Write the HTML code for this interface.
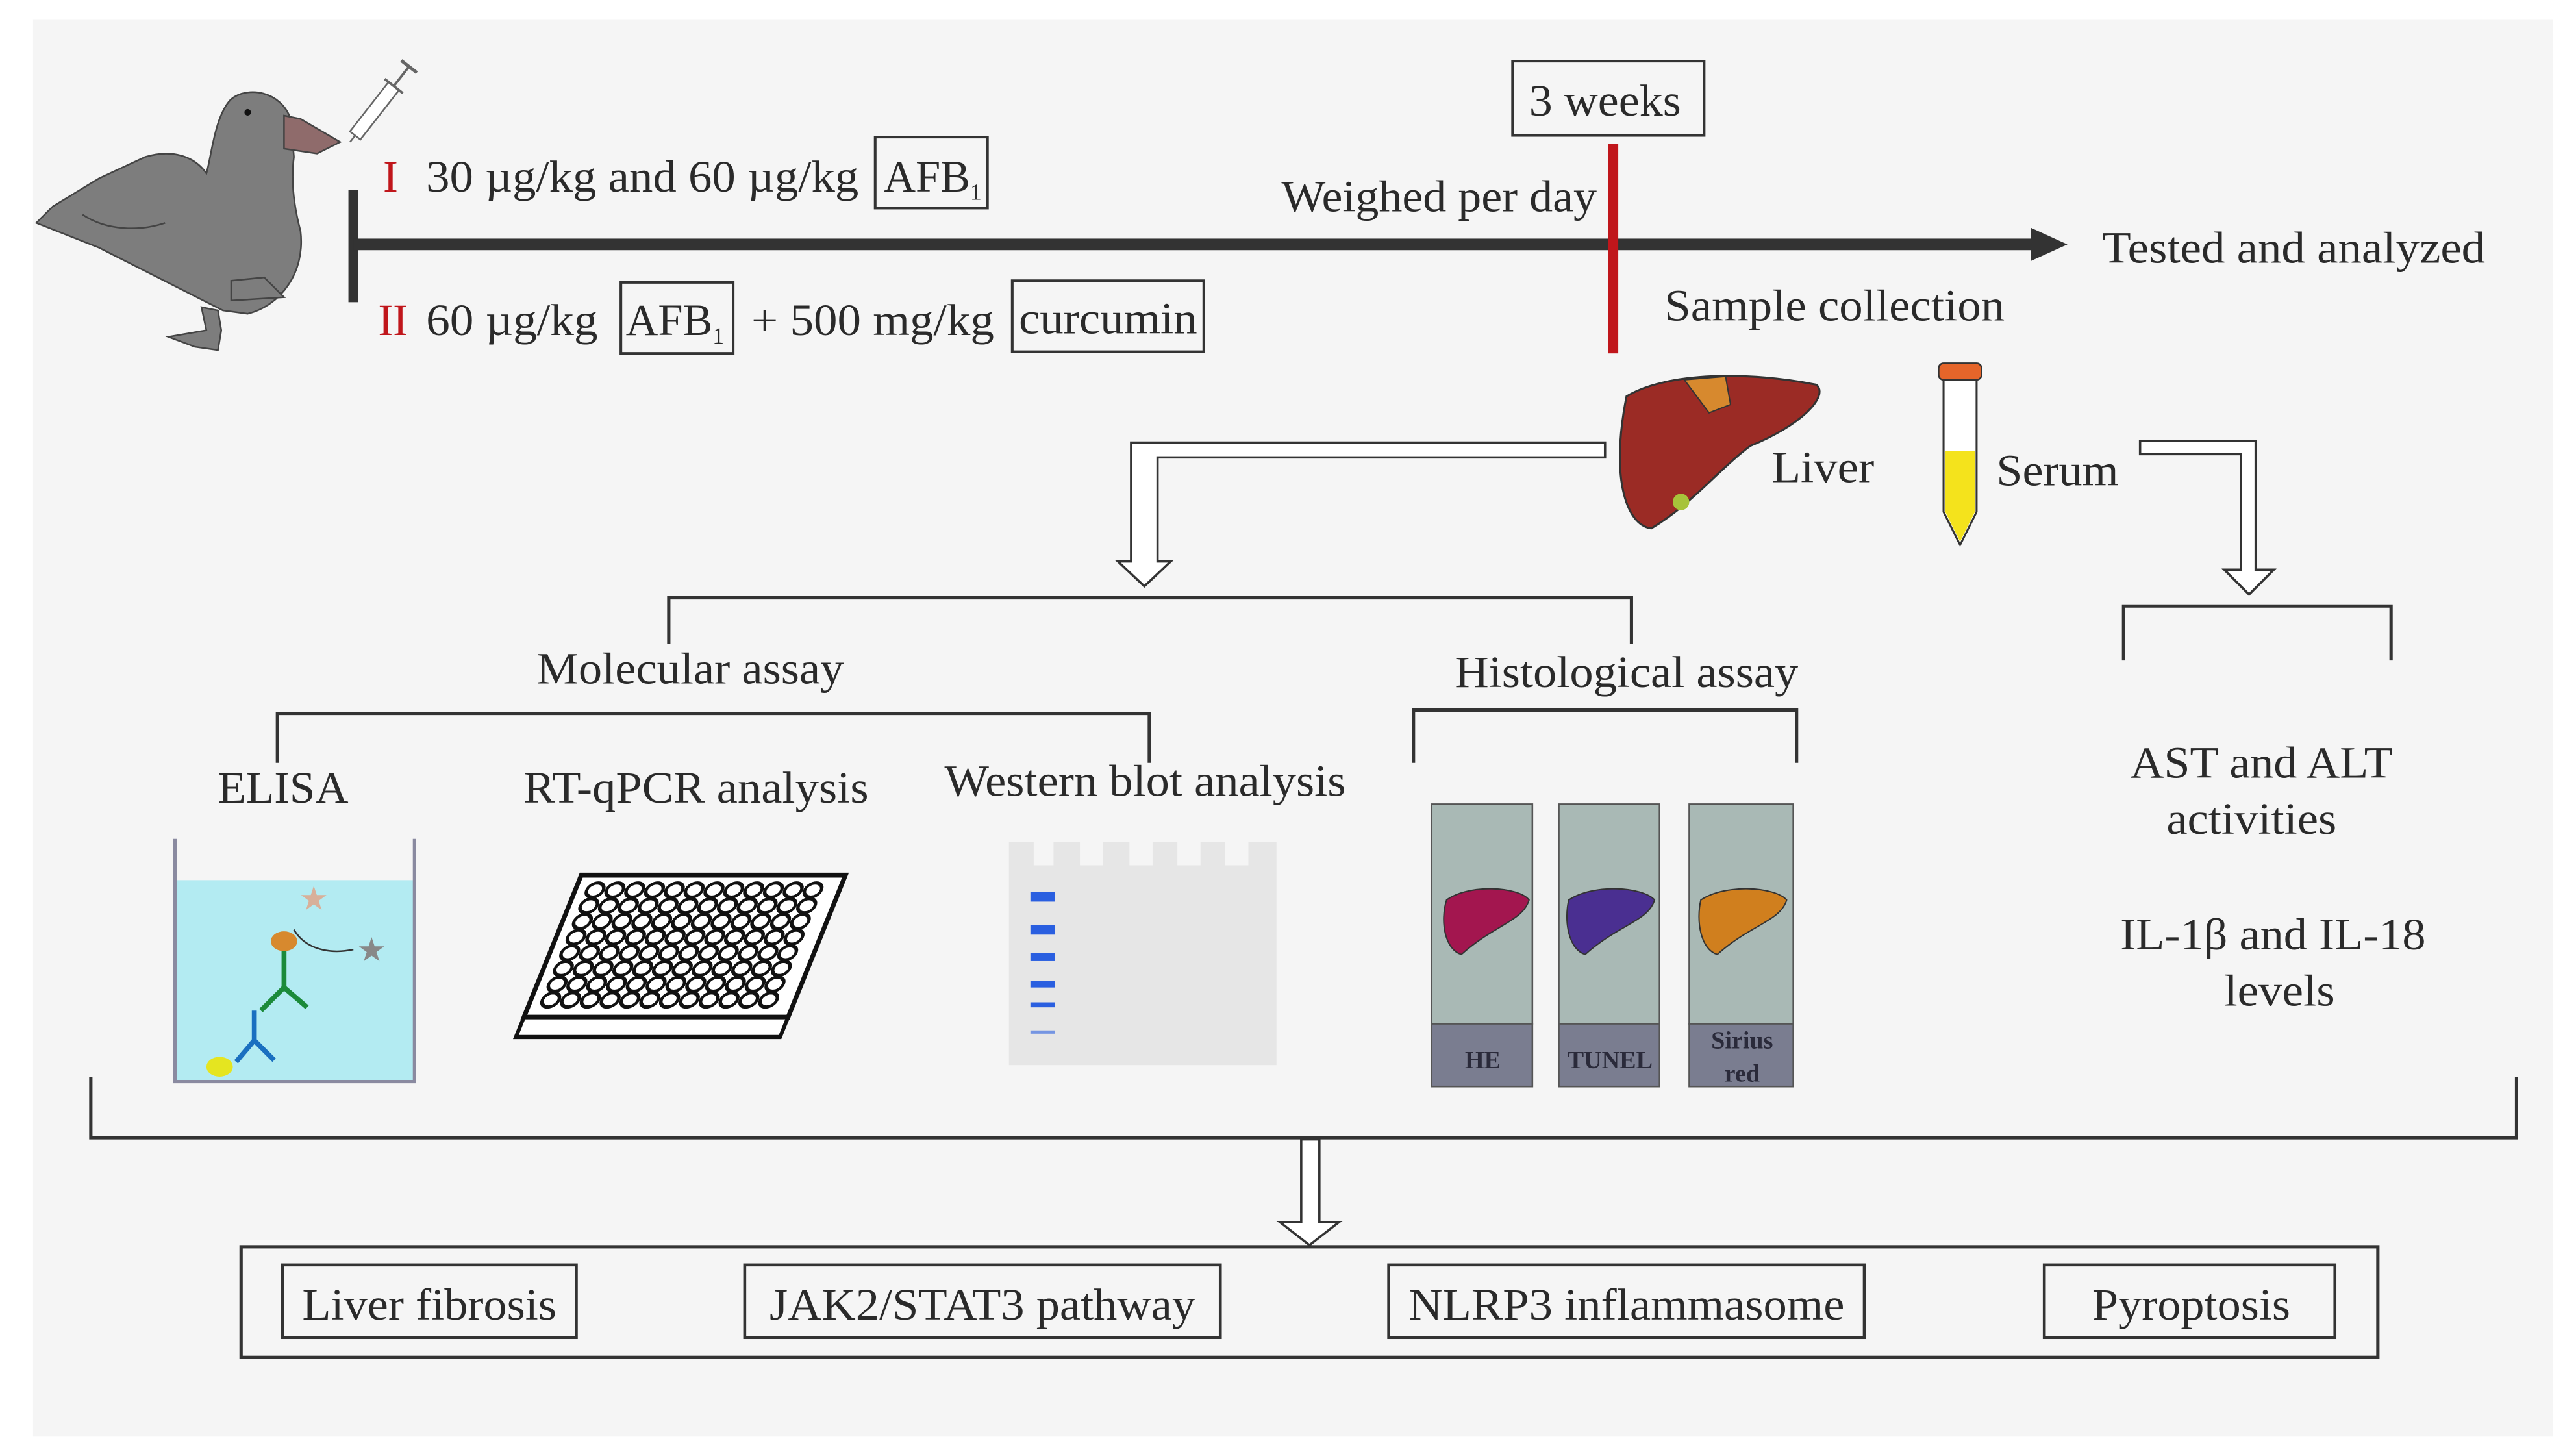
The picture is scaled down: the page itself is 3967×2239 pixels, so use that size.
<!DOCTYPE html>
<html><head><meta charset="utf-8"><style>
html,body{margin:0;padding:0;background:#fff;}
svg{display:block;}
text{font-family:"Liberation Serif","Times New Roman",serif;fill:#2a2a2a;}
</style></head><body>
<svg width="3967" height="2239" viewBox="0 0 1560 880.5" preserveAspectRatio="none" xmlns="http://www.w3.org/2000/svg" font-family="Liberation Serif, serif">
<rect x="0" y="0" width="1560" height="881" fill="#fff"/>
<rect x="20" y="12" width="1526" height="858" fill="#f5f5f5"/>
<!-- duck -->
<path d="M140,60 C150,52 170,55 176,72 L178,95 C176,110 178,125 182,140 C185,165 170,185 150,190 L135,188 L60,150 L22,135 L32,125 L60,108 L88,95 C105,90 118,95 125,105 C128,95 130,70 140,60 Z" fill="#7d7d7d" stroke="#444" stroke-width="1"/>
<path d="M122,186 L125,200 L102,204 L118,210 L132,212 L134,200 L132,188 Z" fill="#7d7d7d" stroke="#444" stroke-width="1"/>
<path d="M140,170 L140,182 L172,180 L160,168 Z" fill="#7d7d7d" stroke="#444" stroke-width="1"/>
<path d="M50,130 C65,140 85,140 100,135" fill="none" stroke="#444" stroke-width="1"/>
<circle cx="150" cy="68" r="2" fill="#111"/>
<path d="M172,70 L182,72 L206,86 L192,93 L172,90 Z" fill="#8f6b6b" stroke="#444" stroke-width="1"/>
<!-- syringe -->
<g transform="translate(212,86) rotate(-52)">
<rect x="5" y="-4" width="38" height="8" fill="#fff" stroke="#666" stroke-width="1"/>
<line x1="0" y1="0" x2="5" y2="0" stroke="#666"/>
<line x1="43" y1="0" x2="58" y2="0" stroke="#666" stroke-width="1.5"/>
<line x1="58" y1="-6" x2="58" y2="6" stroke="#666" stroke-width="2"/>
<line x1="43" y1="-7" x2="43" y2="7" stroke="#666" stroke-width="1.5"/>
</g>
<!-- timeline -->
<rect x="211" y="115" width="6" height="68" fill="#333"/>
<rect x="214" y="144.5" width="1020" height="7" fill="#333"/>
<polygon points="1230,138 1252,148 1230,158" fill="#333"/>
<g font-size="27">
<text x="232" y="116" style="fill:#c0161b">I</text>
<text x="258" y="116" textLength="262" lengthAdjust="spacingAndGlyphs">30 µg/kg and 60 µg/kg</text>
<text x="535" y="116" font-size="27">AFB<tspan font-size="14" dy="5">1</tspan></text>
<text x="229" y="203" style="fill:#c0161b">II</text>
<text x="258" y="203" textLength="104" lengthAdjust="spacingAndGlyphs">60 µg/kg</text>
<text x="379" y="203">AFB<tspan font-size="14" dy="5">1</tspan></text>
<text x="455" y="203" textLength="147" lengthAdjust="spacingAndGlyphs">+ 500 mg/kg</text>
<text x="617" y="202" textLength="108" lengthAdjust="spacingAndGlyphs">curcumin</text>
<text x="926" y="70" textLength="92" lengthAdjust="spacingAndGlyphs">3 weeks</text>
<text x="776" y="128" textLength="191" lengthAdjust="spacingAndGlyphs">Weighed per day</text>
<text x="1273" y="159" textLength="232" lengthAdjust="spacingAndGlyphs">Tested and analyzed</text>
<text x="1008" y="194" textLength="206" lengthAdjust="spacingAndGlyphs">Sample collection</text>
<text x="1073" y="292" textLength="62" lengthAdjust="spacingAndGlyphs">Liver</text>
<text x="1209" y="294" textLength="74" lengthAdjust="spacingAndGlyphs">Serum</text>
<text x="325" y="414" textLength="186" lengthAdjust="spacingAndGlyphs">Molecular assay</text>
<text x="881" y="416" textLength="208" lengthAdjust="spacingAndGlyphs">Histological assay</text>
<text x="132" y="486" textLength="79" lengthAdjust="spacingAndGlyphs">ELISA</text>
<text x="317" y="486" textLength="209" lengthAdjust="spacingAndGlyphs">RT-qPCR analysis</text>
<text x="572" y="482" textLength="243" lengthAdjust="spacingAndGlyphs">Western blot analysis</text>
<text x="1290" y="471" textLength="159" lengthAdjust="spacingAndGlyphs">AST and ALT</text>
<text x="1312" y="505" textLength="103" lengthAdjust="spacingAndGlyphs">activities</text>
<text x="1284" y="575" textLength="185" lengthAdjust="spacingAndGlyphs">IL-1β and IL-18</text>
<text x="1347" y="609" textLength="67" lengthAdjust="spacingAndGlyphs">levels</text>
<text x="183" y="799" textLength="154" lengthAdjust="spacingAndGlyphs">Liver fibrosis</text>
<text x="466" y="799" textLength="258" lengthAdjust="spacingAndGlyphs">JAK2/STAT3 pathway</text>
<text x="853" y="799" textLength="264" lengthAdjust="spacingAndGlyphs">NLRP3 inflammasome</text>
<text x="1267" y="799" textLength="120" lengthAdjust="spacingAndGlyphs">Pyroptosis</text>
</g>
<rect x="530" y="83" width="68" height="43" fill="none" stroke="#333" stroke-width="1.6"/>
<rect x="376" y="171" width="68" height="43" fill="none" stroke="#333" stroke-width="1.6"/>
<rect x="613" y="170" width="116" height="43" fill="none" stroke="#333" stroke-width="1.6"/>
<rect x="916" y="37" width="116" height="45" fill="none" stroke="#333" stroke-width="1.6"/>
<rect x="974" y="87" width="6" height="127" fill="#c0161b"/>
<!-- liver -->
<path d="M985,240 C1010,225 1060,225 1100,233 C1108,240 1090,258 1060,270 C1040,285 1025,305 1000,320 C985,318 975,290 985,240 Z" fill="#9b2b25" stroke="#333" stroke-width="1.2"/>
<path d="M1020,230 L1045,228 L1048,245 L1035,250 Z" fill="#d7892e" stroke="#333" stroke-width="0.8"/>
<circle cx="1018" cy="304" r="5" fill="#a7c33a"/>
<!-- tube -->
<path d="M1177,228 L1197,228 L1197,310 L1187,330 L1177,310 Z" fill="#fff" stroke="#333" stroke-width="1.2"/>
<path d="M1178,273 L1196,273 L1196,310 L1187,328 L1178,310 Z" fill="#f4e31c"/>
<rect x="1174" y="220" width="26" height="10" rx="3" fill="#e5652a" stroke="#333" stroke-width="1"/>
<!-- hollow arrows -->
<path d="M972,268 L685,268 L685,340 L677,340 L693,355 L709,340 L701,340 L701,277 L972,277 Z" fill="#fff" stroke="#333" stroke-width="1.4"/>
<path d="M1296,267 L1366,267 L1366,345 L1377,345 L1362,360 L1347,345 L1357,345 L1357,275 L1296,275 Z" fill="#fff" stroke="#333" stroke-width="1.4"/>
<!-- brackets -->
<g fill="none" stroke="#333" stroke-width="2">
<path d="M405,390 L405,362 L988,362 L988,390"/>
<path d="M168,462 L168,432 L696,432 L696,462"/>
<path d="M856,462 L856,430 L1088,430 L1088,462"/>
<path d="M1286,400 L1286,367 L1448,367 L1448,400"/>
<path d="M55,652 L55,689 L1524,689 L1524,652"/>
</g>
<!-- ELISA -->
<rect x="106" y="533" width="145" height="121" fill="#b3ebf2"/>
<path d="M106,508 L106,655 L251,655 L251,508" fill="none" stroke="#8a8aa0" stroke-width="2"/>
<line x1="172" y1="575" x2="172" y2="600" stroke="#1b8a3a" stroke-width="3"/>
<path d="M172,598 L158,612 M172,598 L186,610" stroke="#1b8a3a" stroke-width="3"/>
<line x1="154" y1="612" x2="154" y2="632" stroke="#1a6fc0" stroke-width="3"/>
<path d="M154,630 L143,643 M154,630 L166,642" stroke="#1a6fc0" stroke-width="3"/>
<ellipse cx="133" cy="646" rx="8" ry="6" fill="#e5e520"/>
<ellipse cx="172" cy="570" rx="8" ry="6" fill="#d7892e"/>
<text x="190" y="551" font-size="20" text-anchor="middle" style="fill:#d8b09a">★</text>
<text x="225" y="582" font-size="20" text-anchor="middle" style="fill:#888">★</text>
<path d="M178,563 C185,575 200,578 214,575" fill="none" stroke="#333" stroke-width="1"/>
<!-- plate -->
<g transform="translate(282,530) skewX(-22)">
<rect x="70" y="0" width="160" height="86" fill="#fff" stroke="#111" stroke-width="3"/>
<rect x="70" y="86" width="160" height="12" fill="#fff" stroke="#111" stroke-width="2.5"/>
<g fill="#fff" stroke="#111" stroke-width="2">
<g id="r0">
<ellipse cx="82" cy="9" rx="5" ry="4.3"/><ellipse cx="94" cy="9" rx="5" ry="4.3"/><ellipse cx="106" cy="9" rx="5" ry="4.3"/><ellipse cx="118" cy="9" rx="5" ry="4.3"/><ellipse cx="130" cy="9" rx="5" ry="4.3"/><ellipse cx="142" cy="9" rx="5" ry="4.3"/><ellipse cx="154" cy="9" rx="5" ry="4.3"/><ellipse cx="166" cy="9" rx="5" ry="4.3"/><ellipse cx="178" cy="9" rx="5" ry="4.3"/><ellipse cx="190" cy="9" rx="5" ry="4.3"/><ellipse cx="202" cy="9" rx="5" ry="4.3"/><ellipse cx="214" cy="9" rx="5" ry="4.3"/>
</g>
<use href="#r0" y="9.5"/><use href="#r0" y="19"/><use href="#r0" y="28.5"/><use href="#r0" y="38"/><use href="#r0" y="47.5"/><use href="#r0" y="57"/><use href="#r0" y="66.5"/>
</g>
</g>
<!-- Western -->
<rect x="611" y="510" width="162" height="135" fill="#e6e6e6"/>
<g fill="#f5f5f5"><rect x="626" y="510" width="12" height="14"/><rect x="654" y="510" width="14" height="14"/><rect x="684" y="510" width="14" height="14"/><rect x="713" y="510" width="14" height="14"/><rect x="742" y="510" width="14" height="14"/></g>
<g fill="#2a5fe0"><rect x="624" y="540" width="15" height="6"/><rect x="624" y="560" width="15" height="6"/><rect x="624" y="577" width="15" height="5"/><rect x="624" y="594" width="15" height="4"/><rect x="624" y="607" width="15" height="3"/><rect x="624" y="624" width="15" height="2" opacity="0.6"/></g>
<!-- slides -->
<g stroke="#555" stroke-width="1">
<rect x="867" y="487" width="61" height="133" fill="#a9b9b5"/><rect x="867" y="620" width="61" height="38" fill="#7a7d90"/>
<rect x="944" y="487" width="61" height="133" fill="#a9b9b5"/><rect x="944" y="620" width="61" height="38" fill="#7a7d90"/>
<rect x="1023" y="487" width="63" height="133" fill="#a9b9b5"/><rect x="1023" y="620" width="63" height="38" fill="#7a7d90"/>
</g>
<path d="M876,545 C890,535 920,537 926,545 C922,558 905,560 885,578 C875,575 872,558 876,545 Z" fill="#a3164f" stroke="#333" stroke-width="0.8"/>
<path d="M950,545 C965,535 995,537 1002,545 C998,558 980,560 960,578 C950,575 947,558 950,545 Z" fill="#4a2f91" stroke="#333" stroke-width="0.8"/>
<path d="M1030,545 C1045,535 1075,537 1082,545 C1078,558 1060,560 1040,578 C1030,575 1027,558 1030,545 Z" fill="#d07f1e" stroke="#333" stroke-width="0.8"/>
<g font-size="15" font-weight="bold" text-anchor="middle">
<text x="898" y="647" style="fill:#2a2a3a">HE</text>
<text x="975" y="647" style="fill:#2a2a3a">TUNEL</text>
<text x="1055" y="635" style="fill:#2a2a3a">Sirius</text>
<text x="1055" y="655" style="fill:#2a2a3a">red</text>
</g>
<!-- down arrow -->
<path d="M788,690 L799,690 L799,740 L811,740 L793,754 L775,740 L788,740 Z" fill="#fff" stroke="#333" stroke-width="1.4"/>
<rect x="146" y="755" width="1294" height="67" fill="none" stroke="#333" stroke-width="2"/>
<g fill="none" stroke="#333" stroke-width="1.8">
<rect x="171" y="766" width="178" height="44"/><rect x="451" y="766" width="288" height="44"/><rect x="841" y="766" width="288" height="44"/><rect x="1238" y="766" width="176" height="44"/>
</g>
</svg>
</body></html>
